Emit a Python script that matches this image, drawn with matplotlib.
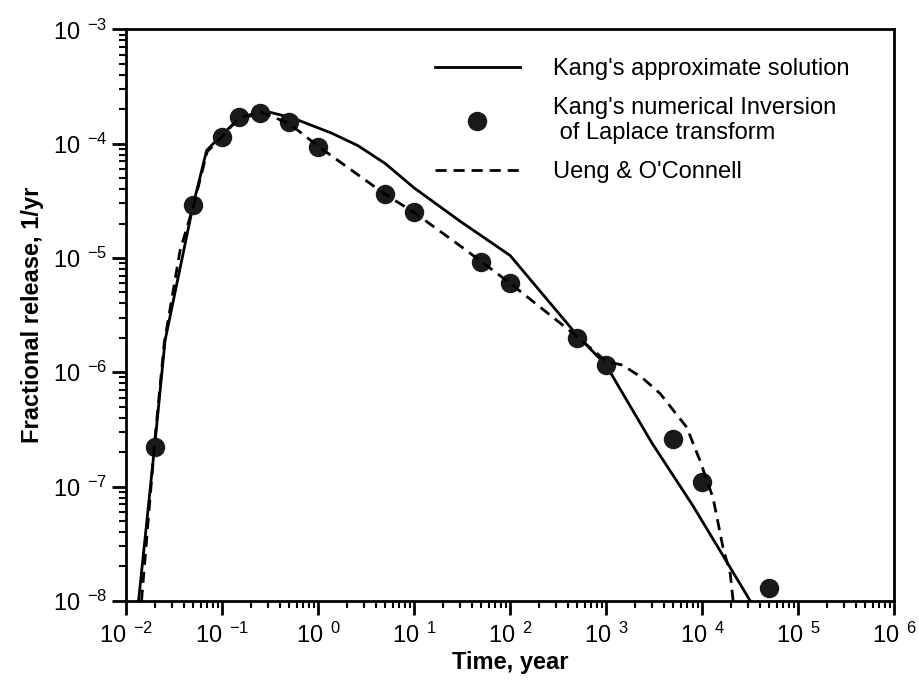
import math
import matplotlib.pyplot as plt
from matplotlib.ticker import FuncFormatter, LogLocator, NullFormatter

plt.rcParams['font.family'] = ['Liberation Sans', 'DejaVu Sans']
plt.rcParams['mathtext.fontset'] = 'custom'
plt.rcParams['mathtext.rm'] = 'Liberation Sans'

# Kang's approximate solution (solid line)
approx_t = [0.0135, 0.02, 0.0255, 0.05, 0.069, 0.1, 0.15, 0.3, 0.55, 1.4, 2.6,
            5, 10, 30, 100, 500, 1000, 3000, 8000, 18000, 31600]
approx_r = [1e-8, 2.4e-7, 1.9e-6, 2.9e-5, 8.7e-5, 1.2e-4, 1.65e-4, 1.9e-4, 1.67e-4,
            1.23e-4, 9.6e-5, 6.7e-5, 4.1e-5, 2.1e-5, 1.05e-5, 2.1e-6, 1.15e-6,
            2.4e-7, 6.8e-8, 2.2e-8, 1e-8]

# Kang's numerical inversion of Laplace transform (dots)
inv_t = [0.02, 0.05, 0.1, 0.15, 0.25, 0.5, 1, 5, 10, 50, 100, 500, 1000, 5000, 10000, 50000]
inv_r = [2.2e-7, 2.9e-5, 1.15e-4, 1.7e-4, 1.87e-4, 1.56e-4, 9.3e-5, 3.6e-5, 2.5e-5,
         9.3e-6, 6e-6, 2.0e-6, 1.15e-6, 2.6e-7, 1.1e-7, 1.3e-8]

# Ueng & O'Connell (dashed line)
ueng_t = [0.0145, 0.02, 0.025, 0.0365, 0.05, 0.07, 0.1, 0.15, 0.25, 0.5, 1, 5, 10, 32,
          50, 100, 420, 1000, 1500, 2430, 3650, 6900, 9500, 13000, 16500, 19600, 21000]
ueng_r = [1e-8, 2.6e-7, 1.8e-6, 1.16e-5, 2.8e-5, 8.5e-5, 1.15e-4, 1.68e-4, 1.9e-4,
          1.5e-4, 9.5e-5, 3.6e-5, 2.5e-5, 1.23e-5, 9.3e-6, 6e-6, 2.3e-6, 1.25e-6,
          1.15e-6, 8.8e-7, 6.5e-7, 3.3e-7, 1.68e-7, 7.9e-8, 2.9e-8, 1.73e-8, 1e-8]

fig = plt.figure(figsize=(9.2, 6.82), dpi=100)
ax = fig.add_axes([0.137, 0.119, 0.835, 0.838])

ax.plot(approx_t, approx_r, color='black', lw=2, label="Kang's approximate solution")
ax.plot(inv_t, inv_r, 'o', color='#1a1a1a', ms=13, label="Kang's numerical Inversion\n of Laplace transform")
ax.plot(ueng_t, ueng_r, color='black', lw=2, ls=(0, (4, 2.5)), label="Ueng & O'Connell")

ax.set_xscale('log')
ax.set_yscale('log')
ax.set_xlim(1e-2, 1e6)
ax.set_ylim(1e-8, 1e-3)

fmt = FuncFormatter(lambda v, p: r'$\mathregular{10\ ^{%d}}$' % round(math.log10(v)))
ax.xaxis.set_major_formatter(fmt)
ax.yaxis.set_major_formatter(fmt)
ax.xaxis.set_minor_locator(LogLocator(subs=range(2, 10)))
ax.yaxis.set_minor_locator(LogLocator(subs=range(2, 10)))
ax.xaxis.set_minor_formatter(NullFormatter())
ax.yaxis.set_minor_formatter(NullFormatter())
ax.tick_params(which='major', direction='out', length=10, width=2, labelsize=17, top=False, right=False)
ax.tick_params(which='minor', direction='out', length=5, width=1.5, top=False, right=False)
ax.tick_params(axis='x', pad=6)
for s in ax.spines.values():
    s.set_linewidth(2)

ax.set_xlabel('Time, year', fontsize=17, fontweight='bold', labelpad=2)
ax.set_ylabel('Fractional release, 1/yr', fontsize=17, fontweight='bold', labelpad=6)

ax.legend(loc='upper left', bbox_to_anchor=(0.402, 0.949), frameon=False, fontsize=17,
          handlelength=3.6, handletextpad=1.4, borderpad=0, borderaxespad=0, labelspacing=0.7)

fig.savefig('out.png', dpi=100)
